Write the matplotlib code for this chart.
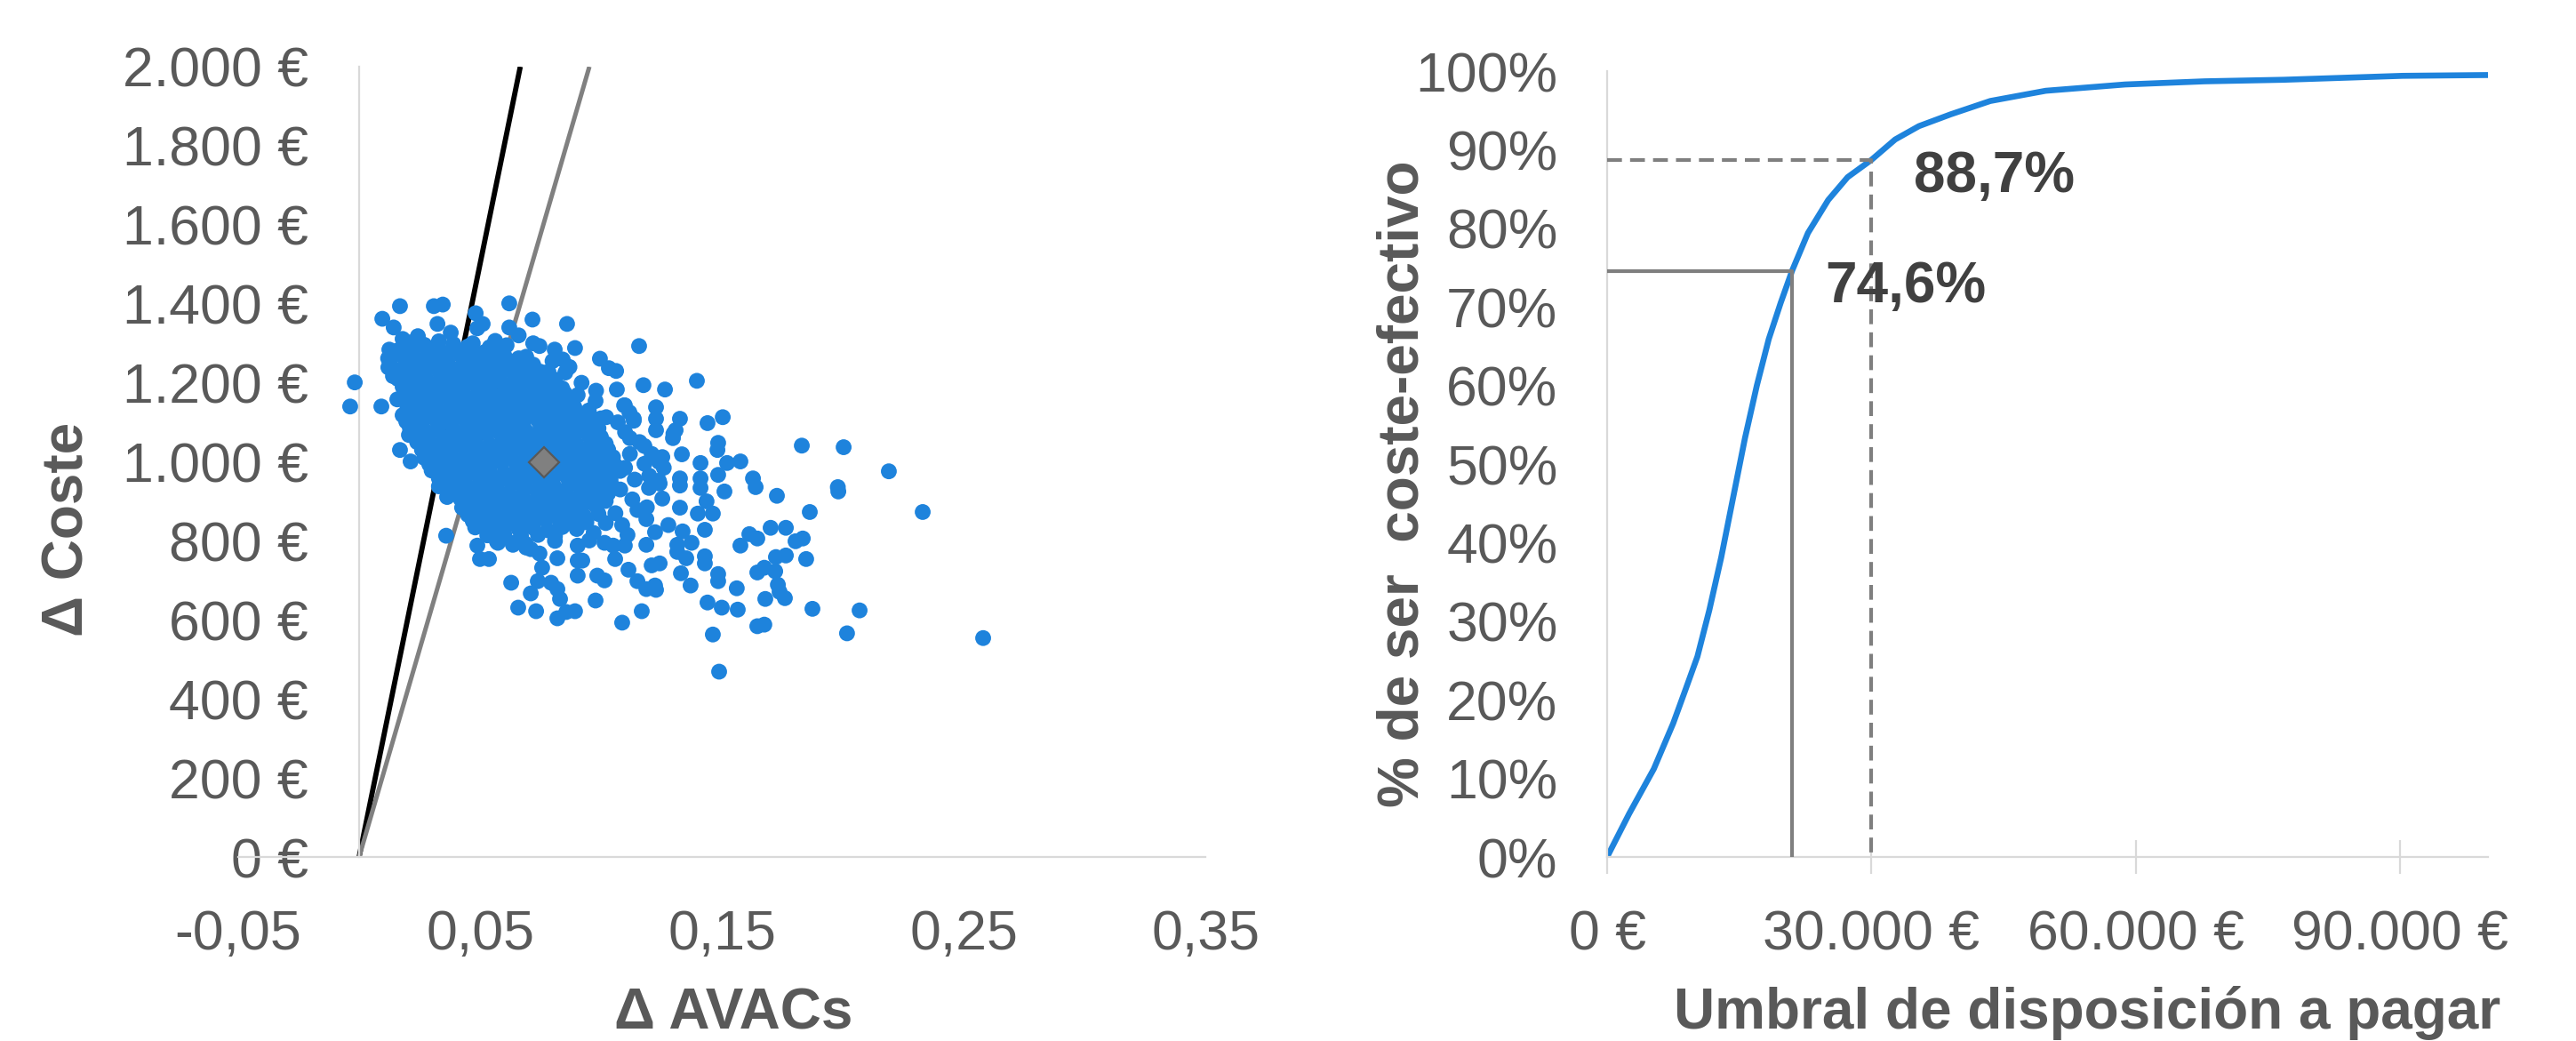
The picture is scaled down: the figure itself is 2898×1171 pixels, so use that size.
import matplotlib
matplotlib.use("Agg")
import matplotlib.pyplot as plt
from matplotlib.ticker import FuncFormatter

plt.rcParams['font.family'] = ['Liberation Sans', 'DejaVu Sans']

GRIS_TXT = '#595959'
GRIS_EJE = '#D9D9D9'
AZUL = '#1E83DC'

# --- Datos: plano coste-efectividad (Δ AVACs, Δ Coste) ---
# nucleo denso de la nube, leido por filas
nucleo = [
    (0.021, 1302), (0.027, 1296), (0.033, 1305), (0.039, 1298), (0.045, 1292),
    (0.012, 1262), (0.018, 1268), (0.024, 1259), (0.030, 1266), (0.036, 1260),
    (0.042, 1270), (0.048, 1258), (0.054, 1265), (0.060, 1256), (0.066, 1262),
    (0.015, 1226), (0.021, 1232), (0.027, 1224), (0.033, 1230), (0.039, 1222),
    (0.045, 1229), (0.051, 1233), (0.057, 1225), (0.063, 1231), (0.069, 1223),
    (0.075, 1228),
    (0.018, 1190), (0.024, 1195), (0.030, 1188), (0.036, 1194), (0.042, 1190),
    (0.048, 1197), (0.054, 1189), (0.060, 1193), (0.066, 1186), (0.072, 1195),
    (0.078, 1190), (0.084, 1186),
    (0.021, 1158), (0.027, 1152), (0.033, 1160), (0.039, 1154), (0.045, 1157),
    (0.051, 1150), (0.057, 1159), (0.063, 1153), (0.069, 1156), (0.075, 1160),
    (0.081, 1151), (0.087, 1155),
    (0.018, 1118), (0.024, 1124), (0.030, 1116), (0.036, 1121), (0.042, 1125),
    (0.048, 1117), (0.054, 1122), (0.060, 1115), (0.066, 1124), (0.072, 1119),
    (0.078, 1123), (0.084, 1116), (0.090, 1121),
    (0.021, 1086), (0.027, 1080), (0.033, 1088), (0.039, 1082), (0.045, 1085),
    (0.051, 1079), (0.057, 1087), (0.063, 1083), (0.069, 1078), (0.075, 1086),
    (0.081, 1081), (0.087, 1088), (0.093, 1082), (0.099, 1085),
    (0.024, 1050), (0.030, 1044), (0.036, 1052), (0.042, 1046), (0.048, 1049),
    (0.054, 1043), (0.060, 1051), (0.066, 1045), (0.072, 1050), (0.078, 1047),
    (0.084, 1053), (0.090, 1044), (0.096, 1049), (0.102, 1046),
    (0.027, 1010), (0.033, 1015), (0.039, 1008), (0.045, 1014), (0.051, 1009),
    (0.057, 1016), (0.063, 1011), (0.069, 1007), (0.075, 1013), (0.081, 1009),
    (0.087, 1015), (0.093, 1010), (0.099, 1006), (0.105, 1012),
    (0.030, 978), (0.036, 972), (0.042, 980), (0.048, 974), (0.054, 977),
    (0.060, 971), (0.066, 979), (0.072, 975), (0.078, 970), (0.084, 978),
    (0.090, 973), (0.096, 980), (0.102, 974), (0.108, 977),
    (0.033, 938), (0.039, 944), (0.045, 936), (0.051, 942), (0.057, 939),
    (0.063, 945), (0.069, 937), (0.075, 941), (0.081, 935), (0.087, 943),
    (0.093, 938), (0.099, 942), (0.105, 936),
    (0.042, 906), (0.048, 900), (0.054, 908), (0.060, 902), (0.066, 905),
    (0.072, 899), (0.078, 907), (0.084, 903), (0.090, 898), (0.096, 906),
    (0.102, 901),
    (0.045, 866), (0.051, 871), (0.057, 864), (0.063, 870), (0.069, 866),
    (0.075, 872), (0.081, 865), (0.087, 869), (0.093, 863), (0.099, 868),
    (0.048, 834), (0.054, 828), (0.060, 836), (0.066, 830), (0.072, 833),
    (0.078, 827), (0.084, 835), (0.090, 830),
    (0.057, 798), (0.069, 792), (0.081, 800),
]

# filas intermedias del nucleo (la nube es casi solida)
nucleo_medio = [
    (0.016, 1282), (0.022, 1280), (0.028, 1285), (0.034, 1279), (0.040, 1284),
    (0.046, 1281), (0.052, 1278), (0.058, 1283),
    (0.013, 1246), (0.019, 1244), (0.025, 1249), (0.031, 1243), (0.037, 1247),
    (0.043, 1245), (0.049, 1250), (0.055, 1242), (0.061, 1248), (0.067, 1244),
    (0.072, 1246),
    (0.016, 1210), (0.022, 1213), (0.028, 1207), (0.034, 1211), (0.040, 1208),
    (0.046, 1214), (0.052, 1209), (0.058, 1212), (0.064, 1206), (0.070, 1210),
    (0.076, 1213), (0.081, 1208),
    (0.019, 1174), (0.025, 1171), (0.031, 1176), (0.037, 1172), (0.043, 1177),
    (0.049, 1173), (0.055, 1170), (0.061, 1175), (0.067, 1172), (0.073, 1177),
    (0.079, 1171), (0.085, 1174),
    (0.020, 1138), (0.026, 1141), (0.032, 1135), (0.038, 1139), (0.044, 1136),
    (0.050, 1142), (0.056, 1137), (0.062, 1140), (0.068, 1134), (0.074, 1138),
    (0.080, 1141), (0.086, 1136), (0.089, 1139),
    (0.020, 1102), (0.026, 1099), (0.032, 1104), (0.038, 1100), (0.044, 1105),
    (0.050, 1101), (0.056, 1098), (0.062, 1103), (0.068, 1100), (0.074, 1105),
    (0.080, 1099), (0.086, 1102), (0.092, 1098), (0.096, 1103),
    (0.023, 1066), (0.029, 1069), (0.035, 1063), (0.041, 1067), (0.047, 1064),
    (0.053, 1070), (0.059, 1065), (0.065, 1068), (0.071, 1062), (0.077, 1066),
    (0.083, 1069), (0.089, 1064), (0.095, 1067), (0.100, 1063),
    (0.026, 1030), (0.032, 1027), (0.038, 1032), (0.044, 1028), (0.050, 1033),
    (0.056, 1029), (0.062, 1026), (0.068, 1031), (0.074, 1028), (0.080, 1033),
    (0.086, 1027), (0.092, 1030), (0.098, 1026), (0.103, 1031),
    (0.029, 994), (0.035, 997), (0.041, 991), (0.047, 995), (0.053, 992),
    (0.059, 998), (0.065, 993), (0.071, 996), (0.077, 990), (0.083, 994),
    (0.089, 997), (0.095, 992), (0.101, 995), (0.106, 991),
    (0.033, 958), (0.038, 955), (0.044, 960), (0.050, 956), (0.056, 961),
    (0.062, 957), (0.068, 954), (0.074, 959), (0.080, 956), (0.086, 961),
    (0.092, 955), (0.098, 958), (0.104, 954),
    (0.038, 922), (0.044, 925), (0.050, 919), (0.056, 923), (0.062, 920),
    (0.068, 926), (0.074, 921), (0.080, 924), (0.086, 918), (0.092, 922),
    (0.098, 925), (0.103, 920),
    (0.044, 886), (0.050, 883), (0.056, 888), (0.062, 884), (0.068, 889),
    (0.074, 885), (0.080, 882), (0.086, 887), (0.092, 884), (0.098, 888),
    (0.047, 850), (0.053, 853), (0.059, 847), (0.065, 851), (0.071, 848),
    (0.077, 854), (0.083, 849), (0.089, 852), (0.094, 847),
    (0.053, 814), (0.060, 817), (0.067, 811), (0.074, 815), (0.081, 812),
]

# puntos alrededor del nucleo y atipicos
periferia = [
    (0.1265, 1183), (0.1397, 1205), (0.1327, 1109), (0.1441, 1098), (0.1504, 1113),
    (0.1309, 1080), (0.1298, 1060), (0.1485, 1048), (0.1482, 1030), (0.1831, 1041),
    (0.2004, 1037), (0.2191, 976), (0.1577, 1001), (0.1522, 997), (0.1412, 997),
    (0.1335, 1019), (0.1254, 1012), (0.1629, 958), (0.1485, 967), (0.1412, 958),
    (0.1327, 958), (0.1228, 1138), (0.1228, 1109), (0.1228, 1080), (0.1980, 936),
    (0.1243, 945), (0.1327, 940), (0.1412, 934), (0.1511, 925), (0.1640, 936),
    (0.1728, 914), (0.1982, 925), (0.1864, 873), (0.2331, 873), (0.1254, 907),
    (0.1327, 884), (0.1437, 900), (0.1463, 869), (0.1401, 869), (0.1279, 840),
    (0.1338, 824), (0.1430, 828), (0.1375, 795), (0.1316, 790), (0.1316, 772),
    (0.1353, 756), (0.1430, 761), (0.1430, 743), (0.1224, 822), (0.1243, 743),
    (0.1228, 676), (0.1331, 718), (0.1371, 687), (0.1485, 716), (0.1485, 698),
    (0.1562, 680), (0.1441, 644), (0.1500, 631), (0.1566, 626), (0.1463, 563),
    (0.1489, 469), (0.1577, 788), (0.1614, 817), (0.1647, 806), (0.1702, 833),
    (0.1765, 833), (0.1805, 799), (0.1835, 806), (0.1724, 759), (0.1765, 763),
    (0.1849, 754), (0.1647, 720), (0.1676, 732), (0.1721, 723), (0.1732, 689),
    (0.1739, 671), (0.1761, 655), (0.1680, 653), (0.1875, 628), (0.2070, 624),
    (0.2018, 566), (0.1647, 584), (0.1676, 588), (0.2581, 554),
    (0.0169, 1394), (0.0096, 1362), (0.0143, 1340), (0.0309, 1394), (0.0346, 1398),
    (0.0324, 1349), (0.0482, 1376), (0.0511, 1349), (0.0489, 1338), (0.0621, 1401),
    (0.0621, 1340), (0.0717, 1360), (0.0860, 1349), (0.1158, 1293), (0.0746, 1293),
    (0.0809, 1284), (0.0893, 1288), (0.0842, 1259), (0.0853, 1226), (0.0996, 1261),
    (0.1033, 1237), (0.1063, 1230), (0.1066, 1183), (0.1176, 1194), (-0.0018, 1201),
    (-0.0037, 1140), (0.0092, 1140), (0.0125, 1284), (0.0121, 1239), (0.0140, 1217),
    (0.0169, 1030), (0.0213, 1001), (0.0195, 1102), (0.0206, 1068), (0.0158, 1158),
    (0.0199, 1259), (0.0243, 1318), (0.0180, 1311), (0.0379, 1327), (0.0563, 1306),
    (0.0610, 1295), (0.0691, 1266), (0.0493, 1261), (0.0732, 1221), (0.0783, 1228),
    (0.0978, 1154), (0.0904, 1169), (0.1022, 1113), (0.1099, 1143), (0.1136, 1109),
    (0.0360, 813), (0.0364, 911), (0.0426, 884), (0.0489, 851), (0.0489, 788),
    (0.0500, 754), (0.0537, 754), (0.0563, 810), (0.0563, 840), (0.0629, 694),
    (0.0636, 795), (0.0658, 631), (0.0710, 667), (0.0732, 622), (0.0691, 783),
    (0.0746, 768), (0.0757, 732), (0.0739, 698), (0.0794, 694), (0.0820, 678),
    (0.0831, 653), (0.0820, 604), (0.0857, 620), (0.0893, 622), (0.0820, 756),
    (0.0904, 712), (0.0904, 750), (0.0923, 750), (0.0904, 788), (0.0978, 649),
    (0.1088, 593), (0.1169, 622), (0.0985, 712), (0.1015, 700), (0.1059, 754),
    (0.1114, 727), (0.1151, 698), (0.1188, 678), (0.1224, 687), (0.1210, 738),
    (0.1188, 790), (0.1099, 788), (0.1051, 788), (0.1015, 795), (0.0952, 801),
    (0.1088, 840), (0.1199, 934), (0.1188, 855), (0.1151, 878),
    (0.1100, 1075), (0.1160, 1050), (0.1120, 1020), (0.1180, 995), (0.1100, 985),
    (0.1140, 955), (0.1200, 965), (0.1080, 930), (0.1130, 905), (0.1190, 885),
    (0.1060, 870), (0.1020, 845), (0.1110, 815), (0.0970, 820), (0.1240, 1000),
    (0.1260, 985), (0.1240, 952), (0.1070, 1100), (0.0950, 1130), (0.1000, 1110),
    (0.0920, 1200), (0.0980, 1180), (0.0870, 1240), (0.0800, 1255), (0.0720, 1300),
    (0.0660, 1320), (0.0540, 1290), (0.0470, 1300), (0.0600, 1270), (0.1096, 1143),
    (0.1118, 1125), (0.1136, 1104), (0.1300, 1071), (0.0327, 967), (0.0574, 795),
    (0.0636, 790), (0.0710, 779), (0.1120, 1060), (0.1180, 1040), (0.1210, 1020),
]

media_avac, media_coste = 0.0765, 1000
umbrales_icer = [30000, 21000]   # €/AVAC, rectas del plano

# --- Datos: curva de aceptabilidad ---
umbral = [0, 2500, 5300, 7500, 8900, 10250, 11600, 12950, 14300, 15650, 17000,
          18350, 19700, 21000, 22800, 25100, 27300, 30000, 32700, 35400, 39000,
          43500, 49800, 58800, 67800, 76800, 90300, 100000]
prob_ce = [0, 5.5, 11.2, 17.0, 21.3, 25.5, 31.4, 38.1, 45.7, 53.3, 60.0,
           65.9, 70.5, 74.6, 79.4, 83.6, 86.5, 88.7, 91.3, 93.0, 94.5,
           96.2, 97.5, 98.3, 98.7, 98.9, 99.4, 99.5]
marcas = [(21000, 74.6, '74,6%'), (30000, 88.7, '88,7%')]

puntos = nucleo + nucleo_medio + periferia
avac = [p[0] for p in puntos]
coste = [p[1] for p in puntos]

W, H = 2898, 1171
fig = plt.figure(figsize=(W / 100, H / 100), dpi=100)

# ---------- plano coste-efectividad ----------
ax1 = fig.add_axes([268 / W, 207 / H, 1088 / W, 889 / H])
ax1.set_xlim(-0.05, 0.35)
ax1.set_ylim(0, 2000)
for s in ['top', 'right']:
    ax1.spines[s].set_visible(False)
ax1.spines['left'].set_position(('data', 0))
for s in ['left', 'bottom']:
    ax1.spines[s].set_color(GRIS_EJE)
    ax1.spines[s].set_linewidth(1.6)

lineas = [('black', 4.2), ('#808080', 3.6)]
for u, (c, lw) in zip(umbrales_icer, lineas):
    ax1.plot([0, 2000 / u], [0, 2000], color=c, lw=lw, zorder=2, solid_capstyle='butt')

ax1.scatter(avac, coste, s=165, color=AZUL, edgecolors='none', zorder=3)
ax1.plot(media_avac, media_coste, marker='D', ms=17.5, mfc='#808080',
         mec='#595959', mew=1.6, zorder=4)

ax1.set_xticks([-0.05, 0.05, 0.15, 0.25, 0.35])
ax1.set_yticks(range(0, 2001, 200))
ax1.xaxis.set_major_formatter(FuncFormatter(lambda v, p: f"{v:.2f}".replace('.', ',')))
ax1.yaxis.set_major_formatter(FuncFormatter(lambda v, p: f"{int(v):,} €".replace(',', '.')))
ax1.tick_params(axis='both', length=0, labelsize=45, labelcolor=GRIS_TXT)
ax1.tick_params(axis='y', pad=41)
ax1.tick_params(axis='x', pad=42)

fig.text(77 / W, 1 - 595 / H, 'Δ Coste', rotation=90, ha='center', va='center',
         fontsize=46, fontweight='bold', color=GRIS_TXT)
fig.text(825 / W, 1 - 1140 / H, 'Δ AVACs', ha='center', va='center',
         fontsize=46, fontweight='bold', color=GRIS_TXT)

# ---------- curva de aceptabilidad ----------
ax2 = fig.add_axes([1808 / W, 207 / H, 991 / W, 884 / H])
ax2.set_xlim(0, 100000)
ax2.set_ylim(0, 100)
for s in ['top', 'right']:
    ax2.spines[s].set_visible(False)
for s in ['left', 'bottom']:
    ax2.spines[s].set_color(GRIS_EJE)
    ax2.spines[s].set_linewidth(1.6)

ax2.plot(umbral, prob_ce, color=AZUL, lw=4.8, zorder=2, solid_capstyle='butt')

(u1, p1, t1), (u2, p2, t2) = marcas
ax2.plot([0, u1, u1], [p1, p1, 0], color='#7F7F7F', lw=3.0, zorder=3)
ax2.plot([0, u2, u2], [p2, p2, 0], color='#7F7F7F', lw=3.0, zorder=3,
         linestyle=(0, (4, 2.2)))
ax2.text(33900, 72.5, t1, ha='center', va='center', fontsize=46,
         fontweight='bold', color='#404040')
ax2.text(43950, 86.5, t2, ha='center', va='center', fontsize=46,
         fontweight='bold', color='#404040')

ax2.set_xticks([0, 30000, 60000, 90000])
ax2.set_yticks(range(0, 101, 10))
ax2.xaxis.set_major_formatter(FuncFormatter(lambda v, p: f"{int(v):,} €".replace(',', '.')))
ax2.yaxis.set_major_formatter(FuncFormatter(lambda v, p: f"{int(v)}%"))
ax2.tick_params(axis='y', length=0, pad=40, labelsize=45, labelcolor=GRIS_TXT)
ax2.tick_params(axis='x', direction='inout', length=28, width=1.6, color=GRIS_EJE,
                pad=28, labelsize=45, labelcolor=GRIS_TXT)

fig.text(1579 / W, 1 - 544 / H, '% de ser  coste-efectivo', rotation=90,
         ha='center', va='center', fontsize=46, fontweight='bold', color=GRIS_TXT)
fig.text(2348 / W, 1 - 1140 / H, 'Umbral de disposición a pagar', ha='center',
         va='center', fontsize=46, fontweight='bold', color=GRIS_TXT)

fig.savefig('out.png', dpi=100)
